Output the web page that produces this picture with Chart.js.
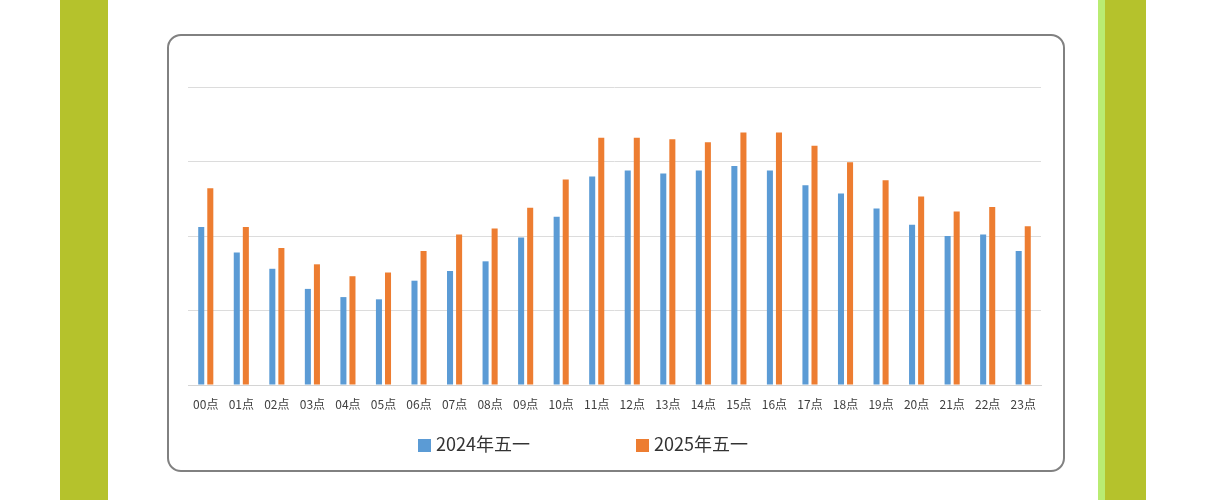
<!DOCTYPE html>
<html lang="zh">
<head>
    <meta charset="UTF-8">
    <title>五一 分时段对比</title>
    <script src="https://cdn.jsdelivr.net/npm/chart.js"></script>
    <style>
        body {
            margin: 0;
            width: 1206px;
            height: 500px;
            background: #ffffff;
            position: relative;
            overflow: hidden;
            font-family: "Noto Sans CJK SC", "Noto Sans", sans-serif;
        }
        .side-left {
            position: absolute;
            left: 60px;
            top: 0;
            width: 48px;
            height: 500px;
            background: #b5c22c;
        }
        .side-right {
            position: absolute;
            left: 1105px;
            top: 0;
            width: 41px;
            height: 500px;
            background: #b5c22c;
            border-left: 7px solid #b9ec72;
            margin-left: -7px;
        }
        .box {
            position: absolute;
            left: 167px;
            top: 34px;
            width: 898px;
            height: 438px;
            box-sizing: border-box;
            border: 2px solid #818181;
            border-radius: 14px;
        }
        .chart-wrap {
            position: absolute;
            left: 0;
            top: 0;
            width: 894px;
            height: 434px;
        }
        .legend-item {
            position: absolute;
            top: 431px;
            font-size: 18px;
            line-height: 24px;
            color: #333333;
            white-space: nowrap;
        }
        .legend-item i {
            display: inline-block;
            width: 13px;
            height: 13px;
            margin-right: 5px;
            vertical-align: -1px;
        }
    </style>
</head>
<body>
<div class="side-left"></div>
<div class="side-right"></div>

<div class="box">
    <div class="chart-wrap">
        <canvas id="hourChart"></canvas>
    </div>
</div>

<div class="legend-item" id="legend2024" style="left: 418px;"><i style="background:#5b9bd5"></i><span></span></div>
<div class="legend-item" id="legend2025" style="left: 636px;"><i style="background:#ed7d31"></i><span></span></div>

<script>
    const hours = ['00点', '01点', '02点', '03点', '04点', '05点', '06点', '07点', '08点', '09点', '10点', '11点',
                   '12点', '13点', '14点', '15点', '16点', '17点', '18点', '19点', '20点', '21点', '22点', '23点'];

    const seriesNames = ['2024年五一', '2025年五一'];

    // values (grid step = 100)
    const values2024 = [212, 178, 156, 129, 118, 115, 140, 153, 166, 198, 226, 280,
                        288, 284, 288, 294, 288, 268, 257, 237, 215, 200, 202, 180];
    const values2025 = [264, 212, 184, 162, 146, 151, 180, 202, 210, 238, 276, 332,
                        332, 330, 326, 339, 339, 321, 299, 275, 253, 233, 239, 213];

    const yTicks = [0, 100, 200, 300, 400];

    const colors = ['#5b9bd5', '#ed7d31'];

    document.querySelector('#legend2024 span').textContent = seriesNames[0];
    document.querySelector('#legend2025 span').textContent = seriesNames[1];

    const ctx = document.getElementById('hourChart').getContext('2d');
    new Chart(ctx, {
        type: 'bar',
        data: {
            labels: hours,
            datasets: [{
                label: seriesNames[0],
                data: values2024,
                backgroundColor: colors[0]
            }, {
                label: seriesNames[1],
                data: values2025,
                backgroundColor: colors[1]
            }]
        },
        options: {
            responsive: true,
            maintainAspectRatio: false,
            animation: false,
            categoryPercentage: 0.51,
            barPercentage: 0.667,
            layout: {
                padding: { left: 19, right: 22, top: 51, bottom: 45 }
            },
            plugins: {
                legend: { display: false },
                tooltip: { enabled: false }
            },
            scales: {
                x: {
                    grid: { display: false, drawTicks: false },
                    border: { color: '#d4d4d4', width: 1 },
                    ticks: {
                        color: '#404040',
                        padding: 12,
                        maxRotation: 0,
                        autoSkip: false,
                        font: { family: '"Noto Sans CJK SC", sans-serif', size: 12 }
                    },
                    afterFit: scale => { scale.height = 40; }
                },
                y: {
                    min: yTicks[0],
                    max: yTicks[yTicks.length - 1],
                    afterBuildTicks: scale => {
                        scale.ticks = yTicks.map(v => ({ value: v }));
                    },
                    ticks: { display: false },
                    grid: { color: '#dcdcdc', lineWidth: 1, drawTicks: false },
                    border: { display: false },
                    afterFit: scale => { scale.width = 0; }
                }
            }
        }
    });
</script>
</body>
</html>
